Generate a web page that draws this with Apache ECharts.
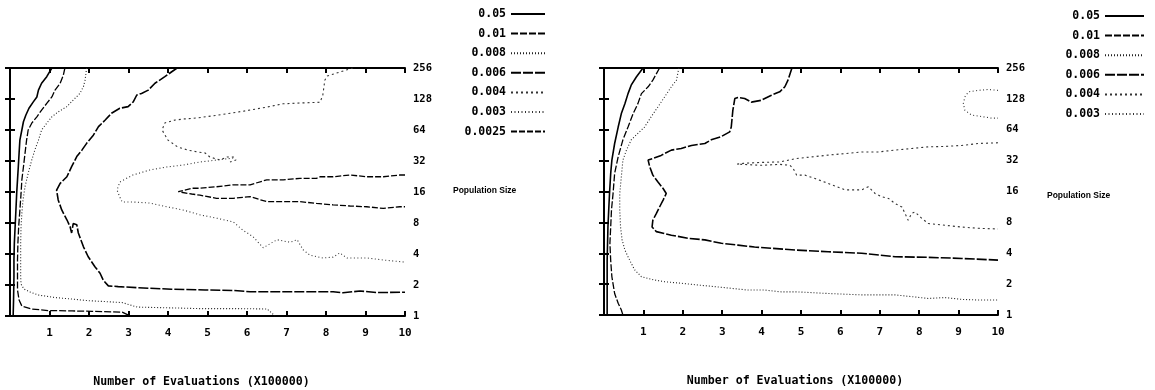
<!DOCTYPE html>
<html>
<head>
<meta charset="utf-8">
<script src="https://cdn.jsdelivr.net/npm/echarts@6/dist/echarts.min.js"></script>
<style>
  html, body { margin: 0; padding: 0; background: #fff; }
  #chart { width: 1155px; height: 390px; }
</style>
</head>
<body>
<div id="chart"></div>
<script>
// ---- axis ticks / labels ----
const xTickValues = [0, 1, 2, 3, 4, 5, 6, 7, 8, 9, 10];
const yTickValues = [1, 2, 4, 8, 16, 32, 64, 128, 256];
const xAxisTitle = 'Number of Evaluations (X100000)';
const yAxisTitle = 'Population Size';

// ---- contour levels ----
const leftLevels = ['0.05', '0.01', '0.008', '0.006', '0.004', '0.003', '0.0025'];
const rightLevels = ['0.05', '0.01', '0.008', '0.006', '0.004', '0.003'];

// ---- left panel contours: [evaluations (x100000), population size] ----
const left_005 = [[1.06,256],[0.93,211],[0.80,182],[0.72,156],[0.68,134],[0.59,120],[0.48,104],[0.40,89],[0.34,77],[0.30,64],[0.25,51],[0.23,38],[0.21,28],[0.19,21],[0.17,15.7],[0.15,10.7],[0.13,7.4],[0.11,5.1],[0.10,3.5],[0.10,2.41],[0.09,1.43],[0.08,1]];
const left_001 = [[1.39,256],[1.35,218],[1.27,182],[1.14,156],[1.06,134],[0.93,116],[0.80,100],[0.68,86],[0.55,74.5],[0.46,64],[0.42,51],[0.38,38],[0.34,28],[0.30,21],[0.28,15.5],[0.25,10.7],[0.22,7.4],[0.20,5.1],[0.19,3.5],[0.19,2.41],[0.19,1.79],[0.23,1.43],[0.30,1.25],[0.55,1.17],[0.96,1.13],[1.57,1.12],[2.08,1.11],[2.84,1.09],[3.04,1]];
const left_0008 = [[1.94,256],[1.90,195],[1.86,169],[1.77,145],[1.60,125],[1.44,108],[1.22,96],[1.06,86],[0.93,74.5],[0.80,64],[0.72,51],[0.63,41],[0.55,32.7],[0.46,24.3],[0.38,18],[0.33,13.4],[0.30,9.9],[0.28,7.4],[0.27,5.1],[0.27,3.5],[0.27,2.41],[0.28,2.04],[0.35,1.83],[0.51,1.71],[0.71,1.60],[1.14,1.51],[1.57,1.46],[1.97,1.41],[2.41,1.38],[2.84,1.35],[3.22,1.22],[4.05,1.20],[4.81,1.18],[5.70,1.18],[6.51,1.17],[6.71,1]];
const left_0006 = [[4.23,256],[4.18,246],[3.92,211],[3.67,182],[3.50,156],[3.33,145],[3.21,140],[3.12,120],[2.99,108],[2.78,104],[2.57,93],[2.41,80],[2.24,69],[2.11,57],[1.94,47.5],[1.82,40.8],[1.69,35.3],[1.56,28.2],[1.44,22.5],[1.27,19.4],[1.18,16.7],[1.22,13.4],[1.31,10.7],[1.44,8.6],[1.52,7.4],[1.56,6.4],[1.60,7.9],[1.65,8.2],[1.69,7.7],[1.73,6.4],[1.86,4.7],[1.98,3.76],[2.15,3.01],[2.28,2.60],[2.36,2.23],[2.49,1.96],[2.74,1.93],[3.25,1.88],[4.09,1.82],[4.94,1.79],[5.65,1.77],[6.08,1.72],[6.51,1.72],[7.34,1.72],[8.18,1.72],[8.43,1.68],[8.86,1.75],[9.29,1.69],[10,1.70]];
const left_0004 = [[8.68,256],[8.35,234],[8.03,214],[7.97,195],[7.92,140],[7.85,119],[7.34,117],[6.91,115],[6.51,107],[6.08,100],[5.65,94],[5.24,89],[4.76,84],[4.43,82],[4.18,80],[3.92,75],[3.85,64],[4.00,51],[4.25,43.7],[4.51,40.8],[4.76,39.1],[4.94,38.3],[5.06,35],[5.32,32.7],[5.49,35],[5.65,35],[5.72,32.7],[5.57,31.3]];
const left_0003 = [[5.65,34.2],[5.24,32.7],[4.81,31.3],[4.38,29.2],[3.97,28],[3.54,26.2],[3.11,23.4],[2.78,20],[2.71,16.7],[2.78,14.3],[2.84,12.8],[3.11,12.8],[3.54,12.5],[3.97,11.5],[4.38,10.7],[4.81,9.6],[5.24,8.9],[5.65,8.2],[5.90,6.8],[6.15,5.9],[6.41,4.6],[6.76,5.5],[7.09,5.2],[7.27,5.5],[7.42,4.4],[7.59,3.9],[7.92,3.66],[8.18,3.73],[8.35,4.1],[8.53,3.66],[9.04,3.66],[9.44,3.5],[10,3.34]];
const left_00025 = [[10,23.4],[9.87,23.4],[9.45,22.5],[9.03,22.5],[8.61,23.4],[8.18,22.5],[7.85,22.5],[7.76,21.7],[7.34,21.7],[6.92,21],[6.50,21],[6.08,18.8],[5.65,18.8],[5.23,18],[4.81,17.4],[4.60,17.4],[4.26,16.1],[4.60,15.3],[4.81,14.9],[5.23,13.9],[5.65,13.9],[6.08,14.4],[6.50,12.9],[6.92,12.9],[7.34,12.9],[7.76,12.4],[8.18,12],[8.61,11.7],[9.03,11.5],[9.45,11.1],[9.87,11.5],[10,11.5]];

// ---- right panel contours ----
const right_005 = [[0.99,256],[0.82,209],[0.69,174],[0.61,144],[0.53,115],[0.44,92],[0.36,68],[0.27,47],[0.20,32.4],[0.17,24],[0.14,15.3],[0.12,10.6],[0.10,7.2],[0.08,3.4],[0.08,1.62],[0.08,1]];
const right_001 = [[1.41,256],[1.24,195],[1.12,168],[0.95,144],[0.86,115],[0.74,92],[0.61,68],[0.48,51],[0.36,35],[0.27,24],[0.23,15.3],[0.19,10.6],[0.17,7.2],[0.15,5.0],[0.17,3.4],[0.20,2.36],[0.27,1.62],[0.36,1.30],[0.44,1.12],[0.48,1]];
const right_0008 = [[1.90,256],[1.84,195],[1.71,168],[1.54,134],[1.37,107],[1.20,86],[1.03,68],[0.86,59],[0.69,51],[0.57,40.5],[0.48,32.4],[0.44,22.3],[0.40,15.3],[0.40,10.6],[0.42,7.2],[0.46,5.4],[0.53,4.3],[0.61,3.7],[0.69,3.2],[0.78,2.75],[0.95,2.36],[1.29,2.19],[1.54,2.11],[1.96,2.04],[2.39,1.96],[2.81,1.89],[3.23,1.82],[3.65,1.75],[4.08,1.75],[4.50,1.68],[4.92,1.68],[5.69,1.62],[6.54,1.57],[7.39,1.57],[7.81,1.51],[8.23,1.45],[8.65,1.48],[9.08,1.42],[9.50,1.40],[10,1.40]];
const right_0006 = [[4.77,256],[4.67,195],[4.59,168],[4.46,150],[4.25,139],[3.99,124],[3.74,119],[3.57,129],[3.40,132],[3.32,129],[3.27,99],[3.23,68],[3.19,61],[2.98,55],[2.72,51],[2.56,47],[2.22,45],[1.96,42],[1.71,40.5],[1.45,36],[1.24,33.6],[1.12,32.4],[1.16,27.9],[1.24,23.1],[1.37,19.8],[1.50,17.1],[1.58,15.3],[1.50,13.2],[1.41,11.3],[1.33,9.8],[1.24,8.4],[1.22,7.2],[1.33,6.5],[1.71,6.0],[2.13,5.6],[2.56,5.4],[2.98,5.0],[3.40,4.8],[3.82,4.6],[4.25,4.47],[4.85,4.3],[5.69,4.14],[6.54,4.0],[7.39,3.7],[8.23,3.65],[9.08,3.56],[10,3.43]];
const right_0004 = [[10,47.8],[9.50,47],[9.08,45],[8.65,44],[8.23,43.6],[7.81,42],[7.39,40.5],[6.96,38.9],[6.54,38.9],[6.12,37.5],[5.69,36.2],[5.27,34.8],[4.89,33.6],[4.47,31.1],[3.96,30.7],[3.53,30.1],[3.38,29.6],[3.96,28.8],[4.47,29.4],[4.72,28.8],[4.80,26.9],[4.89,23.1],[5.10,23.1],[5.36,21.4],[5.69,19.2],[6.12,16.6],[6.54,16.6],[6.71,17.8],[6.88,15.3],[7.05,14.2],[7.22,13.7],[7.39,12.2],[7.56,11.3],[7.64,9.8],[7.72,8.4],[7.81,9.8],[7.89,10.1],[7.98,9.4],[8.06,8.8],[8.23,7.8],[8.65,7.5],[9.08,7.2],[9.50,7.0],[10,6.9]];
const right_0003 = [[10,155],[9.75,158],[9.50,155],[9.25,150],[9.16,134],[9.12,115],[9.16,99],[9.33,89],[9.59,86],[9.84,83],[10,83]];

const leftSeriesData = [left_005, left_001, left_0008, left_0006, left_0004, left_0003, left_00025];
const rightSeriesData = [right_005, right_001, right_0008, right_0006, right_0004, right_0003];

// ---- styles (kept apart from data) ----
const levelStyle = {
  '0.05':   { type: 'solid', width: 1.6, color: '#000' },
  '0.01':   { type: [7, 2], width: 1.3, color: '#000' },
  '0.008':  { type: [1, 2], width: 1.1, color: '#222' },
  '0.006':  { type: [10, 2], width: 1.6, color: '#000' },
  '0.004':  { type: [2, 3], width: 1.1, color: '#333' },
  '0.003':  { type: [1, 2.5], width: 1.1, color: '#333' },
  '0.0025': { type: [6, 2], width: 1.3, color: '#000' }
};
const MONO = '"DejaVu Sans Mono", "Liberation Mono", monospace';

const chart = echarts.init(document.getElementById('chart'), null, { renderer: 'canvas' });

function panelAxes(gridIndex) {
  const xa = [
    {
      type: 'value', gridIndex, min: 0, max: 10, interval: 1, position: 'bottom',
      axisLine: { lineStyle: { color: '#000', width: 2 } },
      axisTick: { inside: true, length: 5, lineStyle: { color: '#000', width: 2 } },
      axisLabel: {
        margin: 12, color: '#000', fontFamily: MONO, fontWeight: 'bold', fontSize: 11,
        formatter: v => (xTickValues.indexOf(v) > 0 ? String(v) : '')
      },
      splitLine: { show: false },
      name: xAxisTitle, nameLocation: 'middle', nameGap: 60,
      nameTextStyle: { color: '#000', fontFamily: MONO, fontWeight: 'bold', fontSize: 11.6, padding: [0, 12, 0, 0] }
    },
    {
      type: 'value', gridIndex, min: 0, max: 10, interval: 1, position: 'top',
      axisLine: { lineStyle: { color: '#000', width: 2 } },
      axisTick: { inside: true, length: 5, lineStyle: { color: '#000', width: 2 } },
      axisLabel: { show: false }, splitLine: { show: false }
    }
  ];
  const ya = [
    {
      type: 'log', logBase: 2, gridIndex, min: yTickValues[0], max: yTickValues[yTickValues.length - 1],
      position: 'right',
      axisLine: { lineStyle: { color: '#000', width: 2 } },
      axisTick: { inside: true, length: 5, lineStyle: { color: '#000', width: 2 } },
      axisLabel: { margin: 8, color: '#000', fontFamily: MONO, fontWeight: 'bold', fontSize: 10.5 },
      splitLine: { show: false }
    },
    {
      type: 'log', logBase: 2, gridIndex, min: yTickValues[0], max: yTickValues[yTickValues.length - 1],
      position: 'left',
      axisLine: { lineStyle: { color: '#000', width: 2 } },
      axisTick: { inside: true, length: 5, lineStyle: { color: '#000', width: 2 } },
      axisLabel: { show: false }, splitLine: { show: false }
    }
  ];
  return { xa, ya };
}

const p0 = panelAxes(0), p1 = panelAxes(1);
const series = [];
leftLevels.forEach((lv, i) => {
  series.push({
    name: lv, type: 'line', xAxisIndex: 0, yAxisIndex: 0, data: leftSeriesData[i],
    symbol: 'none', lineStyle: levelStyle[lv], itemStyle: { color: levelStyle[lv].color, opacity: 0 },
    silent: true, clip: true
  });
});
rightLevels.forEach((lv, i) => {
  series.push({
    name: lv, type: 'line', xAxisIndex: 2, yAxisIndex: 2, data: rightSeriesData[i],
    symbol: 'none', lineStyle: levelStyle[lv], itemStyle: { color: levelStyle[lv].color, opacity: 0 },
    silent: true, clip: true
  });
});

const legendText = { color: '#000', fontFamily: MONO, fontWeight: 'bold', fontSize: 11.5 };

chart.setOption({
  animation: false,
  backgroundColor: '#fff',
  grid: [
    { left: 10, top: 68, width: 395, height: 248, outerBoundsMode: 'none', containLabel: false },
    { left: 604, top: 68, width: 394, height: 247, outerBoundsMode: 'none', containLabel: false }
  ],
  xAxis: [...p0.xa, ...p1.xa],
  yAxis: [...p0.ya, ...p1.ya],
  legend: [
    {
      data: leftLevels, orient: 'vertical', align: 'right', right: 609, top: 8, padding: 0,
      itemWidth: 34, itemHeight: 12, itemGap: 7.6, selectedMode: false,
      itemStyle: { opacity: 0 },
      textStyle: legendText
    },
    {
      data: rightLevels, orient: 'vertical', align: 'right', right: 10, top: 10, padding: 0,
      itemWidth: 39, itemHeight: 12, itemGap: 7.6, selectedMode: false,
      itemStyle: { opacity: 0 },
      textStyle: legendText
    }
  ],
  graphic: [
    { type: 'text', left: 453, top: 186, style: { text: yAxisTitle, fill: '#000', font: 'bold 8.5px "Liberation Sans"' } },
    { type: 'text', left: 1047, top: 191, style: { text: yAxisTitle, fill: '#000', font: 'bold 8.5px "Liberation Sans"' } }
  ],
  series
});
</script>
</body>
</html>
